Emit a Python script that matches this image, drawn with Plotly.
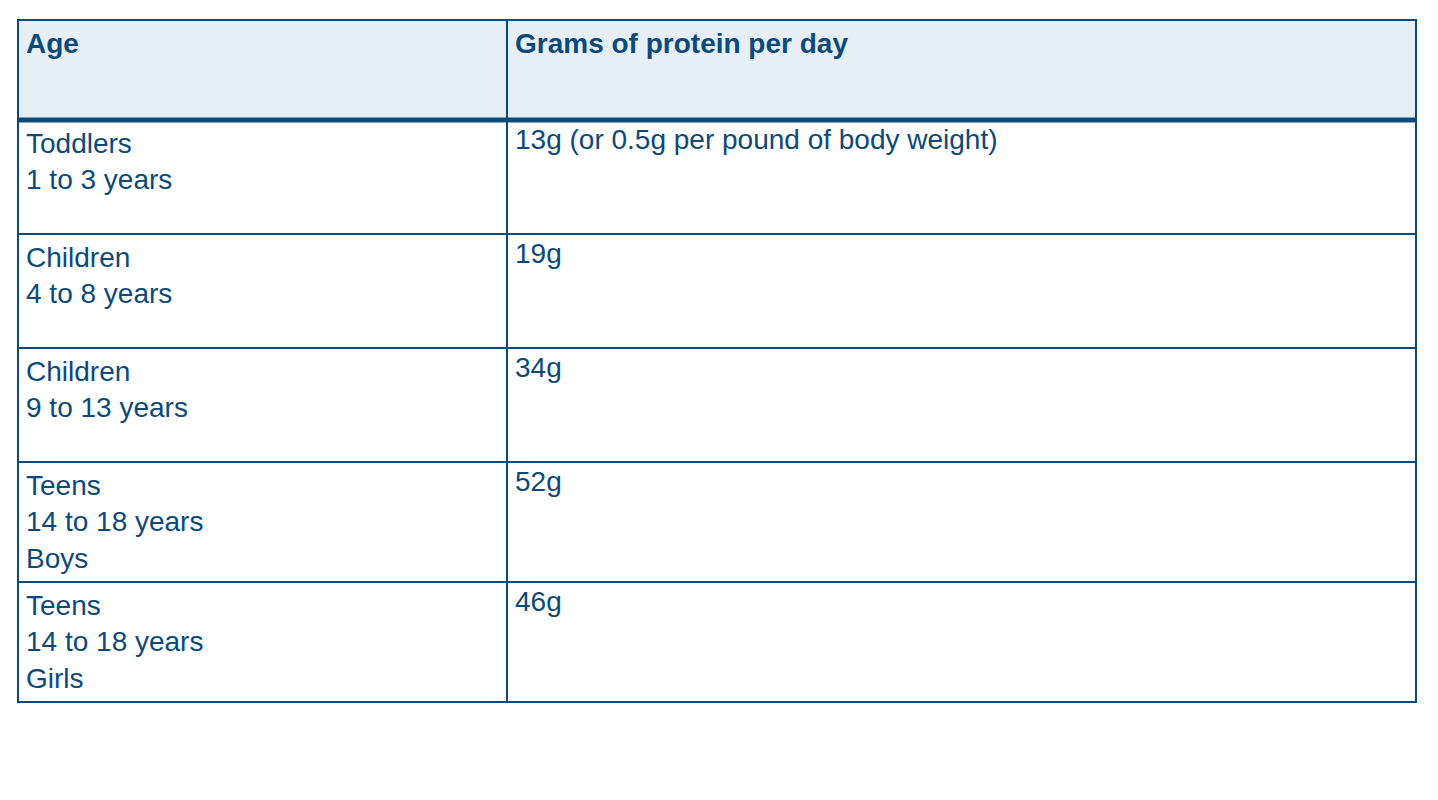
"""Protein needs by age table."""

import plotly.graph_objects as go

HEADERS = ["Age", "Grams of protein per day"]
AGE_GROUPS = [
    "Toddlers<br>1 to 3 years",
    "Children<br>4 to 8 years",
    "Children<br>9 to 13 years",
    "Teens<br>14 to 18 years<br>Boys",
    "Teens<br>14 to 18 years<br>Girls",
]
PROTEIN = [
    "13g (or 0.5g per pound of body weight)",
    "19g",
    "34g",
    "52g",
    "46g",
]

BLUE = "#0b4a7a"
HEADER_BG = "#e6eef6"
FONT = "Liberation Sans, Arial, sans-serif"

W, H = 1438, 800
# page body adds an 8px offset, so positions are shifted back by it
x0, x1 = 10 / W, 1408 / W
y_top, y_bot = 12, 764

fig = go.Figure(
    go.Table(
        domain=dict(x=[x0, x1], y=[1 - y_bot / H, 1 - y_top / H]),
        columnwidth=[489, 909],
        header=dict(
            values=[f"<br><b>{h}</b>" for h in HEADERS],
            fill_color=HEADER_BG,
            line=dict(color=BLUE, width=2),
            font=dict(family=FONT, size=28, color=BLUE),
            align="left",
            height=100,
        ),
        cells=dict(
            values=[AGE_GROUPS, PROTEIN],
            fill_color="white",
            line=dict(color=BLUE, width=2),
            font=dict(family=FONT, size=28, color=BLUE),
            align="left",
            height=114,
        ),
    )
)

fig.add_shape(
    type="line", xref="paper", yref="paper",
    x0=x0, x1=x1, y0=1 - 112 / H, y1=1 - 112 / H,
    line=dict(color=BLUE, width=5),
)

fig.update_layout(
    width=W, height=H,
    margin=dict(l=0, r=0, t=0, b=0),
    paper_bgcolor="white",
)

fig.write_html("out.html")
